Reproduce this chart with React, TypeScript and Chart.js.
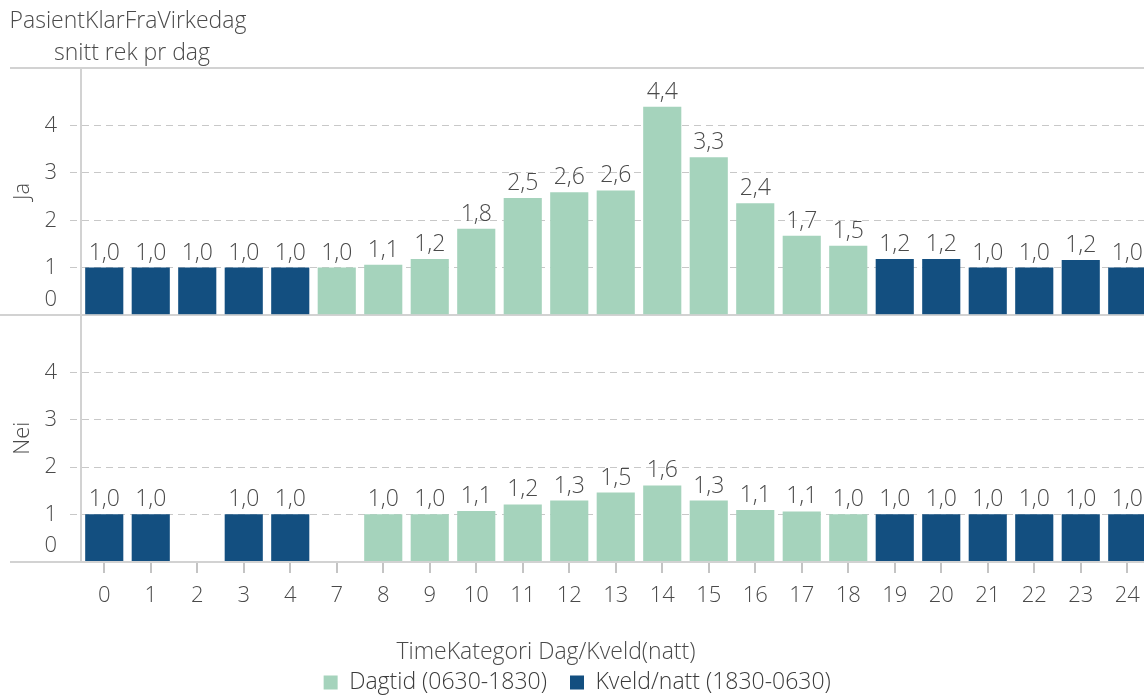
import React, { useEffect, useRef } from 'react';
import { Chart, registerables } from 'chart.js';

Chart.register(...registerables);

// ---------- data ----------
const categories = ['0', '1', '2', '3', '4', '7', '8', '9', '10', '11', '12', '13', '14', '15', '16', '17', '18', '19', '20', '21', '22', '23', '24'];
// which time category each hour belongs to: 'D' = Dagtid, 'K' = Kveld/natt
const periods = ['K', 'K', 'K', 'K', 'K', 'D', 'D', 'D', 'D', 'D', 'D', 'D', 'D', 'D', 'D', 'D', 'D', 'K', 'K', 'K', 'K', 'K', 'K'];
const jaValues = [1.0, 1.0, 1.0, 1.0, 1.0, 1.0, 1.06, 1.18, 1.82, 2.47, 2.59, 2.63, 4.4, 3.33, 2.36, 1.67, 1.46, 1.18, 1.18, 1.0, 1.0, 1.16, 1.0];
const neiValues = [1.0, 1.0, null, 1.0, 1.0, null, 1.0, 1.0, 1.07, 1.21, 1.29, 1.46, 1.61, 1.29, 1.09, 1.06, 1.0, 1.0, 1.0, 1.0, 1.0, 1.0, 1.0];
const seriesKeys = ['D', 'K'];
const seriesNames = ['Dagtid (0630-1830)', 'Kveld/natt (1830-0630)'];
const panelNames = ['Ja', 'Nei'];
const yTickValues = [0, 1, 2, 3, 4];
const titleLines = ['PasientKlarFraVirkedag', 'snitt rek pr dag'];
const legendTitle = 'TimeKategori Dag/Kveld(natt)';

// ---------- styles ----------
const FONT = "'Open Sans', sans-serif";
const FS = 22; // tick labels
const FS_TEXT = 23; // titles, legend, value labels
const W = '300';
const COLORS = ['#a5d3bc', '#134f80'];
const TEXT = '#4a4a4a';
const LINE = '#d2d2d2';
const GRID = '#c8c8c8';
const Y_MAX = 5.22;
const LEFT_PAD = 4;
const AXIS_LEFT = 81;

const fmt = (v: number) => v.toFixed(1).replace('.', ',');

const decorPlugin = {
  id: 'decor',
  beforeDatasetsDraw(chart: any) {
    const { ctx } = chart;
    const a = chart.scales.yJa;
    const b = chart.scales.yNei;
    const x = chart.scales.x;
    ctx.save();
    ctx.strokeStyle = LINE;
    ctx.lineWidth = 2;
    const lines: [number, number][] = [[a.top, 10], [a.bottom, 0], [b.bottom, 10]];
    lines.forEach(([y, x0]) => {
      ctx.beginPath();
      ctx.moveTo(x0, Math.round(y));
      ctx.lineTo(chart.width, Math.round(y));
      ctx.stroke();
    });
    // x tick marks
    ctx.lineWidth = 2;
    ctx.strokeStyle = '#c4c4c4';
    x.ticks.forEach((_t: any, i: number) => {
      const px = Math.round(x.getPixelForTick(i));
      ctx.beginPath();
      ctx.moveTo(px, Math.round(b.bottom) + 1);
      ctx.lineTo(px, Math.round(b.bottom) + 11);
      ctx.stroke();
    });
    ctx.restore();
  },
  afterDatasetsDraw(chart: any) {
    const { ctx } = chart;
    ctx.save();
    ctx.font = `${W} ${FS_TEXT}px ${FONT}`;
    ctx.fillStyle = TEXT;
    ctx.textAlign = 'center';
    ctx.textBaseline = 'alphabetic';
    chart.data.datasets.forEach((ds: any, di: number) => {
      const meta = chart.getDatasetMeta(di);
      meta.data.forEach((el: any, i: number) => {
        const v = ds.data[i];
        if (v === null || v === undefined) return;
        ctx.fillText(fmt(v), el.x, el.y - 8);
      });
    });
    ctx.restore();
  },
  afterDraw(chart: any) {
    const { ctx } = chart;
    ctx.save();
    ctx.fillStyle = TEXT;
    ctx.textAlign = 'center';
    ctx.textBaseline = 'alphabetic';
    ctx.font = `${W} ${FS_TEXT}px ${FONT}`;
    ctx.fillText(titleLines[0], 128, 28);
    ctx.fillText(titleLines[1], 132, 60);
    ctx.fillText(legendTitle, 546, chart.legend.top + 11);
    ctx.restore();
  },
};

function makeYAxis(name: string) {
  return {
    type: 'linear',
    position: 'left',
    stack: 'panels',
    stackWeight: 1,
    min: 0,
    max: Y_MAX,
    afterBuildTicks: (axis: any) => {
      axis.ticks = yTickValues.map((v) => ({ value: v }));
    },
    afterFit: (axis: any) => {
      axis.width = AXIS_LEFT - LEFT_PAD;
    },
    ticks: {
      autoSkip: false,
      padding: 13,
      color: TEXT,
      font: (c: any) => ({ family: FONT, size: FS, weight: W, lineHeight: c.tick && c.tick.value === 0 ? 0.7 : 1.2 }),
      callback: (v: any) => (v === 0 ? ['0', '', ''] : String(v)),
    },
    grid: {
      color: (c: any) => (c.tick && c.tick.value === 0 ? 'rgba(0,0,0,0)' : GRID),
      lineWidth: 1,
      tickLength: 11,
      tickBorderDash: [7, 5],
    },
    border: { display: true, color: LINE, width: 2, dash: [7, 5] },
    title: {
      display: true,
      text: name,
      color: TEXT,
      font: { family: FONT, size: FS, weight: W },
      padding: { top: 6, bottom: 4 },
    },
  };
}

export default function App() {
  const ref = useRef<HTMLCanvasElement | null>(null);

  useEffect(() => {
    if (!ref.current) return;
    Chart.defaults.font.family = FONT;
    const datasets: any[] = [];
    [jaValues, neiValues].forEach((vals, p) => {
      seriesKeys.forEach((key, s) => {
        datasets.push({
          label: seriesNames[s],
          data: vals.map((v, i) => (periods[i] === key ? v : null)),
          backgroundColor: COLORS[s],
          borderWidth: 0,
          yAxisID: p === 0 ? 'yJa' : 'yNei',
          grouped: false,
          categoryPercentage: 1,
          barPercentage: 0.82,
        });
      });
    });

    const chart = new Chart(ref.current, {
      type: 'bar',
      data: { labels: categories, datasets },
      options: {
        responsive: false,
        animation: false,
        layout: { padding: { top: 68, left: LEFT_PAD, right: 9.5, bottom: 0 } },
        plugins: {
          tooltip: { enabled: false },
          legend: {
            position: 'bottom',
            labels: {
              filter: (item: any) => item.datasetIndex < 2,
              boxWidth: 14,
              boxHeight: 14,
              padding: 23,
              color: '#3a3a3a',
              font: { family: FONT, size: FS_TEXT, weight: W },
            },
          },
        },
        scales: {
          x: {
            type: 'category',
            ticks: { color: TEXT, font: { family: FONT, size: FS, weight: W }, padding: 13, maxRotation: 0, autoSkip: false },
            grid: { display: false, offset: false },
            border: { display: false },
            afterFit: (scale: any) => {
              scale.height += 26;
            },
          },
          yNei: makeYAxis(panelNames[1]),
          yJa: makeYAxis(panelNames[0]),
        } as any,
      },
      plugins: [decorPlugin],
    } as any);
    return () => chart.destroy();
  }, []);

  return (
    <div style={{ position: 'fixed', left: 0, top: 0, width: 1144, height: 699, overflow: 'hidden', background: '#fff' }}>
      <canvas ref={ref} width={1160} height={704} style={{ display: 'block' }} />
    </div>
  );
}
